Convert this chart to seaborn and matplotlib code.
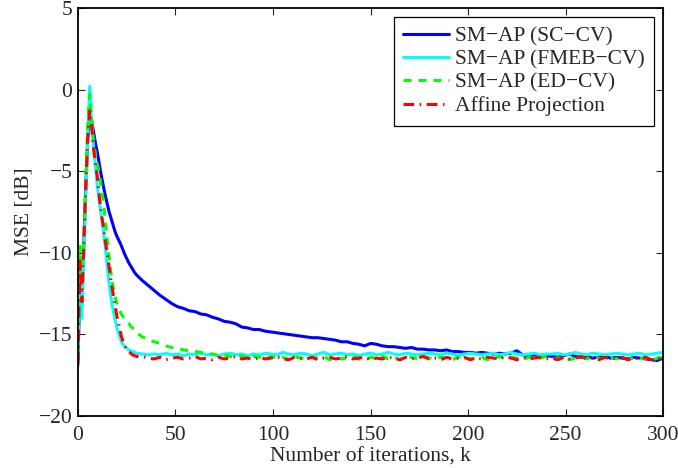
import numpy as np
import pandas as pd
import matplotlib
matplotlib.use("Agg")
import matplotlib.pyplot as plt
import seaborn as sns

# iteration index: every iteration up to 30, then every 3rd one
k_head = np.arange(0, 31)
k_tail = np.arange(33, 301, 3)

# MSE curves in dB
blue_head = [-16.5, -12.0, -13.0, -9.5, -6.0, -3.0, -1.6, -1.9, -2.6, -3.3, -3.9,
             -4.6, -5.3, -5.9, -6.5, -7.0, -7.5, -7.9, -8.3, -8.7, -9.0,
             -9.25, -9.5, -9.8, -10.1, -10.35, -10.6, -10.8, -11.0, -11.2, -11.35]
blue_tail = [-11.7, -12.0, -12.3, -12.6, -12.85, -13.1, -13.3, -13.4, -13.55, -13.6,
             -13.75, -13.8, -13.95, -14.05, -14.2, -14.25, -14.35, -14.55, -14.6, -14.7,
             -14.7, -14.8, -14.85, -14.9, -14.95, -15.0, -15.05, -15.1, -15.15, -15.2,
             -15.2, -15.25, -15.3, -15.35, -15.45, -15.45, -15.55, -15.6, -15.7, -15.55,
             -15.6, -15.7, -15.75, -15.75, -15.8, -15.85, -15.8, -15.9, -15.9, -15.95,
             -15.95, -16.0, -15.95, -16.05, -16.05, -16.1, -16.1, -16.15, -16.1, -16.15,
             -16.2, -16.15, -16.2, -16.15, -16.0, -16.25, -16.3, -16.25, -16.35, -16.3,
             -16.35, -16.4, -16.3, -16.2, -16.35, -16.4, -16.35, -16.45, -16.4, -16.35,
             -16.45, -16.4, -16.45, -16.5, -16.4, -16.45, -16.5, -16.55, -16.6, -16.45]

cyan_head = [-16.0, -11.0, -14.0, -10.5, -6.5, -3.0, 0.2, -2.0, -3.6, -4.8, -6.0,
             -6.9, -7.8, -8.6, -9.6, -10.8, -11.9, -12.8, -13.5, -14.1, -14.6,
             -15.0, -15.35, -15.6, -15.75, -15.85, -15.95, -16.0, -16.05, -16.1, -16.15]
cyan_tail = [-16.2, -16.25, -16.2, -16.25, -16.15, -16.25, -16.2, -16.3, -16.2, -16.25,
             -16.15, -16.25, -16.2, -16.3, -16.2, -16.15, -16.25, -16.2, -16.3, -16.2,
             -16.25, -16.15, -16.2, -16.25, -16.1, -16.2, -16.25, -16.15, -16.2, -16.3,
             -16.2, -16.1, -16.25, -16.2, -16.15, -16.25, -16.2, -16.3, -16.2, -16.15,
             -16.25, -16.2, -16.1, -16.2, -16.25, -16.15, -16.2, -16.25, -16.2, -16.15,
             -16.2, -16.25, -16.15, -16.2, -16.3, -16.2, -16.15, -16.2, -16.25, -16.2,
             -16.15, -16.25, -16.2, -16.1, -16.2, -16.25, -16.2, -16.15, -16.25, -16.2,
             -16.2, -16.15, -16.25, -16.2, -16.1, -16.2, -16.25, -16.15, -16.2, -16.25,
             -16.2, -16.15, -16.2, -16.25, -16.2, -16.15, -16.25, -16.2, -16.15, -16.1]

green_head = [-17.0, -9.6, -11.5, -9.0, -5.5, -2.2, -0.3, -1.8, -3.2, -4.0, -4.6,
              -5.2, -6.0, -6.8, -8.0, -9.2, -10.3, -11.3, -12.1, -12.7, -13.1,
              -13.4, -13.7, -13.9, -14.05, -14.2, -14.3, -14.5, -14.6, -14.8, -14.9]
green_tail = [-15.15, -15.3, -15.45, -15.55, -15.7, -15.8, -15.85, -15.95, -16.0, -16.05,
              -16.1, -16.2, -16.2, -16.3, -16.25, -16.35, -16.4, -16.3, -16.45, -16.35,
              -16.4, -16.5, -16.35, -16.45, -16.4, -16.55, -16.35, -16.45, -16.5, -16.4,
              -16.45, -16.35, -16.55, -16.4, -16.5, -16.45, -16.35, -16.5, -16.6, -16.4,
              -16.45, -16.35, -16.5, -16.4, -16.55, -16.45, -16.4, -16.5, -16.35, -16.45,
              -16.5, -16.4, -16.45, -16.55, -16.4, -16.35, -16.5, -16.45, -16.4, -16.55,
              -16.45, -16.35, -16.5, -16.4, -16.45, -16.55, -16.4, -16.5, -16.45, -16.35,
              -16.5, -16.45, -16.4, -16.55, -16.45, -16.4, -16.5, -16.35, -16.45, -16.5,
              -16.4, -16.5, -16.45, -16.55, -16.4, -16.5, -16.45, -16.6, -16.45, -16.35]

red_head = [-16.8, -10.5, -13.0, -9.5, -6.0, -3.0, -1.3, -2.3, -3.6, -4.6, -5.4,
            -6.6, -7.6, -8.4, -9.3, -10.0, -10.9, -11.8, -12.5, -13.2, -13.9,
            -14.4, -15.0, -15.4, -15.7, -15.9, -16.05, -16.15, -16.25, -16.3, -16.35]
red_tail = [-16.35, -16.45, -16.5, -16.4, -16.55, -16.45, -16.4, -16.5, -16.45, -16.35,
            -16.5, -16.45, -16.55, -16.4, -16.5, -16.45, -16.35, -16.5, -16.45, -16.55,
            -16.4, -16.5, -16.45, -16.35, -16.5, -16.55, -16.4, -16.45, -16.5, -16.4,
            -16.55, -16.45, -16.4, -16.5, -16.45, -16.35, -16.5, -16.45, -16.4, -16.55,
            -16.45, -16.5, -16.4, -16.45, -16.55, -16.4, -16.5, -16.45, -16.35, -16.5,
            -16.45, -16.55, -16.4, -16.5, -16.45, -16.4, -16.55, -16.45, -16.5, -16.4,
            -16.45, -16.5, -16.35, -16.45, -16.55, -16.4, -16.5, -16.45, -16.4, -16.5,
            -16.45, -16.55, -16.4, -16.5, -16.45, -16.35, -16.5, -16.45, -16.55, -16.4,
            -16.5, -16.45, -16.4, -16.55, -16.45, -16.5, -16.4, -16.55, -16.5, -16.45]

labels = ['SM\u2212AP (SC\u2212CV)', 'SM\u2212AP (FMEB\u2212CV)',
          'SM\u2212AP (ED\u2212CV)', 'Affine Projection']
colors = ['#0000ff', '#00ffff', '#00ff00', '#ff0000']

k = np.concatenate([k_head, k_tail])
curves = [blue_head + blue_tail, cyan_head + cyan_tail,
          green_head + green_tail, red_head + red_tail]

sns.set_style('ticks')
plt.rcParams['font.family'] = ['Liberation Serif', 'DejaVu Serif']

fig = plt.figure(figsize=(6.78, 4.68), dpi=100)
ax = fig.add_axes([0.115, 0.111, 0.863, 0.872])

fs = 15.5
styles = ['-', '-', (0, (2.6, 2.3)), (0, (3.5, 1.8, 0.5, 1.8))]
for vals, lab, col, ls in zip(curves, labels, colors, styles):
    df = pd.DataFrame({'k': k, 'mse': vals})
    sns.lineplot(data=df, x='k', y='mse', color=col, linestyle=ls,
                 linewidth=2.2, label=lab, ax=ax)

ax.set_xlim(0, 300)
ax.set_ylim(-20, 5)
ax.set_xticks(range(0, 301, 50))
ax.set_yticks(range(-20, 6, 5))
ax.tick_params(direction='in', length=5, width=0.8, labelsize=fs,
               top=True, right=True)
ax.tick_params(axis='x', pad=7)
ax.tick_params(axis='y', pad=4)
for s in ax.spines.values():
    s.set_linewidth(1.3)
    s.set_color('black')
ax.set_xlabel('Number of iterations, k', fontsize=fs, labelpad=2)
ax.set_ylabel('MSE [dB]', fontsize=fs, labelpad=4)

leg = ax.legend(loc='upper right', fontsize=fs, frameon=True, fancybox=False,
                edgecolor='black', framealpha=1, handlelength=2.1,
                labelspacing=0.15, borderpad=0.45, handletextpad=0.3,
                borderaxespad=0.4)
leg.get_frame().set_linewidth(0.9)

fig.savefig('out.png', dpi=100)
